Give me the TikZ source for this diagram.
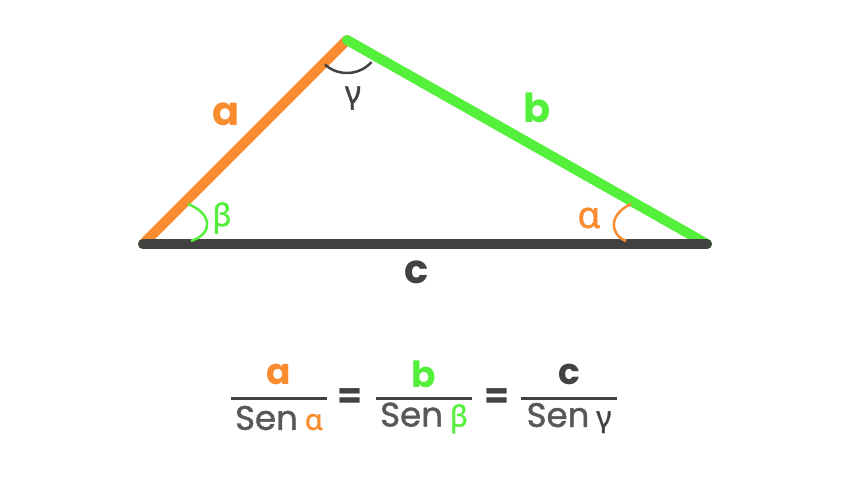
\documentclass[tikz,border=0pt]{standalone}
\usepackage{fontspec}
\setmainfont{Poppins}
\newfontfamily\greekfont{Noto Sans}[FakeBold=1.2]
\newfontfamily\medfont{Poppins}[FakeBold=1.3]

\definecolor{orng}{RGB}{248,140,46}
\definecolor{grn}{RGB}{84,240,60}
\definecolor{drk}{RGB}{66,66,66}
\definecolor{gry}{RGB}{88,88,88}

\tikzset{
	side/.style={line width=10pt, line cap=round},
	angarc/.style={line width=2.5pt},
	sidelabel/.style={font=\fontsize{40}{44}\selectfont\bfseries, inner sep=0pt},
	anglabel/.style={font=\fontsize{31}{34}\greekfont, inner sep=0pt},
	frac num/.style={font=\fontsize{36}{40}\selectfont\bfseries, inner sep=0pt},
	frac den/.style={font=\fontsize{34}{38}\medfont, text=gry, inner sep=0pt},
	fracbar/.style={draw=drk, line width=3pt}
}

\begin{document}
\begin{tikzpicture}[x=1pt, y=1pt]
	\useasboundingbox (0,0) rectangle (848,480);
	% vertices
	\coordinate (B) at (143,236);
	\coordinate (C) at (347,440);
	\coordinate (A) at (707,236);

	% sides
	\draw[side, orng] (B) -- (C);
	\draw[side, grn] (C) -- (A);
	\draw[side, drk] (B) -- (A);

	% angles
	\draw[angarc, grn] (188,276) .. controls (213,266) and (213,246) .. (191,239);
	\draw[angarc, orng] (631,276) .. controls (609,266) and (609,246) .. (626,239);
	\draw[angarc, drk] ([shift={(228:33)}]C) arc (228:318:33);

	\node[sidelabel, text=orng] (la) at (226,366) {a};
	\node[sidelabel, text=grn] (lb) at (537,372) {b};
	\node[sidelabel, text=drk] (lc) at (417,208) {c};
	\node[anglabel, text=drk] (lgamma) at (353,382) {γ};
	\node[anglabel, text=grn] (lbeta) at (222,262) {β};
	\node[anglabel, text=orng, font=\fontsize{37}{40}\greekfont] (lalpha) at (589,262) {α};

	% law of sines
	\foreach \n/\cx/\s/\c/\g in {1/279/a/orng/α, 2/424/b/grn/β, 3/569/c/drk/γ}{
		\node[frac num, text=\c] (num\n) at (\cx,106) {\s};
		\coordinate (bl\n) at (\cx-48,82);
		\coordinate (br\n) at (\cx+48,82);
		\draw[fracbar] (bl\n) -- (br\n);
		\node[frac den] (den\n) at (\cx,62) {Sen\hspace{7pt}{\color{\c}\fontsize{29}{32}\greekfont\g}};
	}
	\node[frac num, text=drk] (eq1) at (350,81) {=};
	\node[frac num, text=drk] (eq2) at (497,81) {=};
\end{tikzpicture}
\end{document}
